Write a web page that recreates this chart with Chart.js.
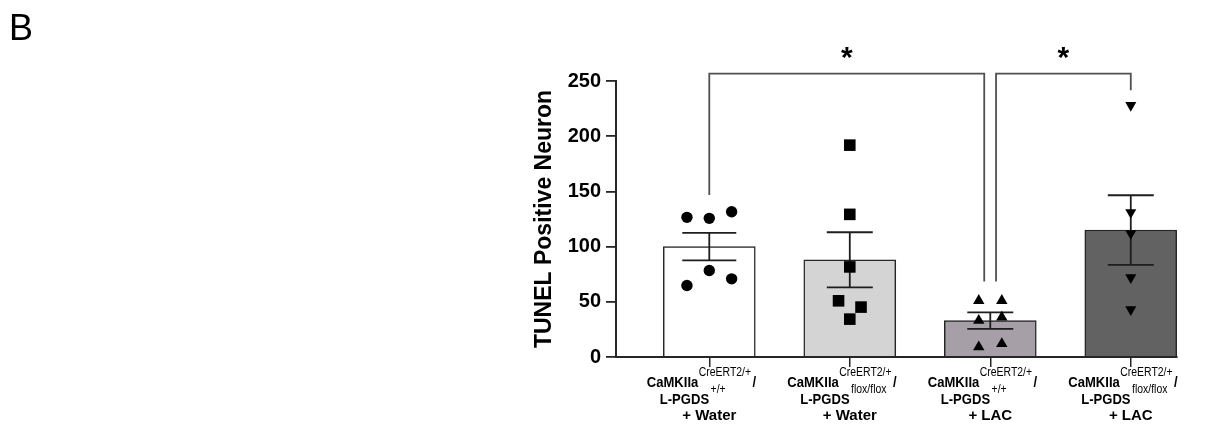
<!DOCTYPE html>
<html>
<head>
<meta charset="utf-8">
<script src="https://cdn.jsdelivr.net/npm/chart.js@4.4.0/dist/chart.umd.min.js"></script>
<style>
  html, body { margin: 0; padding: 0; background: #ffffff; }
  #wrap { width: 1217px; height: 425px; position: relative; }
</style>
</head>
<body>
<div id="wrap"><canvas id="c" width="1217" height="425"></canvas></div>
<script>
// ---------------- data ----------------
const panelLetter = 'B';
const yTitle = 'TUNEL Positive Neuron';
const groupIndex = [0, 1, 2, 3];
const labelLine1Base = ['CaMKIIa', 'CaMKIIa', 'CaMKIIa', 'CaMKIIa'];
const labelLine1Sup = ['CreERT2/+', 'CreERT2/+', 'CreERT2/+', 'CreERT2/+'];
const labelLine2Base = ['L-PGDS', 'L-PGDS', 'L-PGDS', 'L-PGDS'];
const labelLine2Sup = ['+/+', 'flox/flox', '+/+', 'flox/flox'];
const labelLine3 = ['+ Water', '+ Water', '+ LAC', '+ LAC'];
const yTicks = [0, 50, 100, 150, 200, 250];

const means = [100, 88, 33, 115];
const sems = [12.5, 25, 7.5, 31.5];

const group1Values = [126.5, 125.6, 131.6, 64.7, 78.3, 70.8];
const group2Values = [191.9, 129.2, 81.6, 50.9, 45.2, 34.3];
const group3Values = [51, 51, 33, 36, 9, 12];
const group4Values = [228, 131, 112, 72, 43];

// significance brackets: [left group, right group (fractional), top value, left leg end, right leg end]
const bracket1 = [0, 1.957, 256.7, 146.7, 68.3];
const bracket2 = [2.041, 3, 256.7, 68.3, 241.6];
const starLabels = ['*', '*'];
const starValue = 275;

// ---------------- styles ----------------
const barColors = ['#ffffff', '#d4d4d4', '#a79fa7', '#626262'];
const jitter1 = [-0.159, 0, 0.159, -0.159, 0, 0.159];
const jitter2 = [0, 0, 0, -0.08, 0.08, 0];
const jitter3 = [-0.082, 0.082, -0.082, 0.082, -0.082, 0.082];
const jitter4 = [0, 0, 0, 0, 0];

function pts(g, vals, jit) { return vals.map((v, k) => ({ x: g + jit[k], y: v })); }
function bracketPts(b) {
  return [{ x: b[0], y: b[3] }, { x: b[0], y: b[2] }, { x: b[1], y: b[2] }, { x: b[1], y: b[4] }];
}

const FONT = "'Liberation Sans', Arial, Helvetica, sans-serif";

const errorBarPlugin = {
  id: 'errorBars',
  afterDatasetDraw(chart, args) {
    if (args.index !== 0) return;
    const ctx = chart.ctx, xs = chart.scales.x, ys = chart.scales.y;
    ctx.save();
    ctx.strokeStyle = '#1e1e1e';
    ctx.lineWidth = 1.8;
    groupIndex.forEach((g, i) => {
      const cx = xs.getPixelForValue(g);
      const yT = ys.getPixelForValue(means[i] + sems[i]);
      const yB = ys.getPixelForValue(means[i] - sems[i]);
      const hw = i === 0 ? 27 : 23;
      ctx.beginPath();
      ctx.moveTo(cx, yT); ctx.lineTo(cx, yB);
      ctx.moveTo(cx - hw, yT); ctx.lineTo(cx + hw, yT);
      ctx.moveTo(cx - hw, yB); ctx.lineTo(cx + hw, yB);
      ctx.stroke();
    });
    ctx.restore();
  }
};

// draws text horizontally condensed by factor sx, starting at x; returns advance width
function condText(ctx, text, x, y, sx) {
  ctx.save();
  ctx.translate(x, y);
  ctx.scale(sx, 1);
  ctx.textAlign = 'left';
  ctx.fillText(text, 0, 0);
  const w = ctx.measureText(text).width * sx;
  ctx.restore();
  return w;
}

const labelsPlugin = {
  id: 'customLabels',
  afterDraw(chart) {
    const ctx = chart.ctx, xs = chart.scales.x, ys = chart.scales.y;
    ctx.save();
    ctx.fillStyle = '#000';
    ctx.textBaseline = 'alphabetic';
    const bold = '700 15px ' + FONT;
    const sup = '400 12px ' + FONT;
    const sx = 0.87;
    groupIndex.forEach((g, i) => {
      const c = xs.getPixelForValue(g);
      // line 1
      ctx.font = bold;
      let x = c - 62.5;
      x += condText(ctx, labelLine1Base[i], x, 387, sx) + 0.5;
      ctx.font = sup;
      x += condText(ctx, labelLine1Sup[i], x, 376, sx) + 1.5;
      ctx.font = bold;
      condText(ctx, '/', x, 387, sx);
      // line 2
      x = c - 49.5;
      x += condText(ctx, labelLine2Base[i], x, 403.5, sx) + 1.5;
      ctx.font = sup;
      condText(ctx, labelLine2Sup[i], x, 392.5, sx);
      // line 3
      ctx.font = '700 15px ' + FONT;
      ctx.textAlign = 'center';
      ctx.fillText(labelLine3[i], c, 420);
    });
    // stars
    ctx.font = '700 30px ' + FONT;
    ctx.textAlign = 'center';
    [bracket1, bracket2].forEach((b, k) => {
      const cx = xs.getPixelForValue((b[0] + b[1]) / 2);
      const cy = ys.getPixelForValue(starValue);
      const m = ctx.measureText(starLabels[k]);
      const off = (m.actualBoundingBoxAscent - m.actualBoundingBoxDescent) / 2;
      ctx.fillText(starLabels[k], cx, cy + off);
    });
    // panel letter
    ctx.font = '400 36px ' + FONT;
    ctx.textAlign = 'left';
    ctx.fillText(panelLetter, 9, 39.5);
    ctx.restore();
  }
};

const scatterCommon = {
  type: 'scatter',
  backgroundColor: '#000',
  borderColor: '#000',
  borderWidth: 0,
  clip: false,
  order: 1
};

const chart = new Chart(document.getElementById('c'), {
  type: 'bar',
  data: {
    datasets: [
      {
        type: 'bar',
        data: groupIndex.map((g, i) => ({ x: g, y: means[i] })),
        backgroundColor: barColors,
        borderColor: '#262626',
        borderWidth: 1.5,
        barThickness: 92,
        order: 10
      },
      Object.assign({}, scatterCommon, { data: pts(0, group1Values, jitter1), pointStyle: 'circle', pointRadius: 5.7 }),
      Object.assign({}, scatterCommon, { data: pts(1, group2Values, jitter2), pointStyle: 'rect', pointRadius: 8.2 }),
      Object.assign({}, scatterCommon, { data: pts(2, group3Values, jitter3), pointStyle: 'triangle', pointRadius: 6.6 }),
      Object.assign({}, scatterCommon, { data: pts(3, group4Values, jitter4), pointStyle: 'triangle', rotation: 180, pointRadius: 6.4 }),
      { type: 'line', data: bracketPts(bracket1), borderColor: '#505050', borderWidth: 1.8, pointRadius: 0, fill: false, tension: 0, clip: false, order: 0 },
      { type: 'line', data: bracketPts(bracket2), borderColor: '#505050', borderWidth: 1.8, pointRadius: 0, fill: false, tension: 0, clip: false, order: 0 }
    ]
  },
  options: {
    responsive: false,
    animation: false,
    events: [],
    layout: { padding: { left: 527, top: 81, right: 40, bottom: 0 } },
    plugins: { legend: { display: false }, tooltip: { enabled: false } },
    scales: {
      x: {
        type: 'linear',
        offset: false,
        min: -0.664,
        max: 3.329,
        afterBuildTicks(scale) { scale.ticks = groupIndex.map(v => ({ value: v })); },
        afterFit(scale) { scale.height = 68; },
        ticks: { display: false },
        grid: { display: true, offset: false, drawOnChartArea: false, drawTicks: true, tickLength: 10, color: '#262626', lineWidth: 1.5 },
        border: { display: true, color: '#262626', width: 2 }
      },
      y: {
        min: 0,
        max: 250,
        afterBuildTicks(scale) { scale.ticks = yTicks.map(v => ({ value: v })); },
        afterFit(scale) { scale.width = 89; },
        ticks: { color: '#000', padding: 5, font: { family: FONT, size: 20, weight: '700' } },
        grid: { display: true, drawOnChartArea: false, drawTicks: true, tickLength: 10, color: '#262626', lineWidth: 1.8 },
        border: { display: true, color: '#262626', width: 2 },
        title: { display: true, text: yTitle, color: '#000', padding: { top: 4, bottom: 0 }, font: { family: FONT, size: 23, weight: '700' } }
      }
    }
  },
  plugins: [errorBarPlugin, labelsPlugin]
});
</script>
</body>
</html>
